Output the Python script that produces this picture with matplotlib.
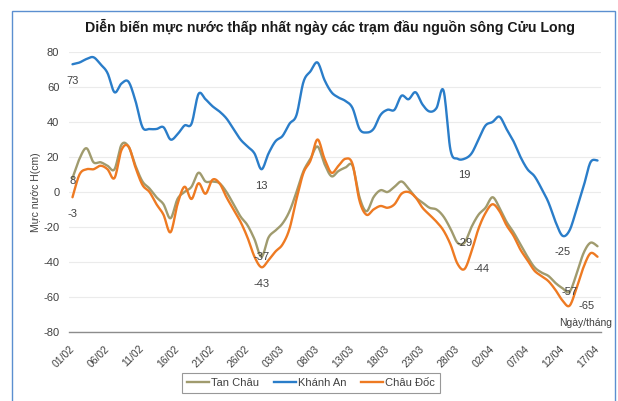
import numpy as np
import pandas as pd
import matplotlib
matplotlib.use("Agg")
import matplotlib.pyplot as plt
from matplotlib.patches import Rectangle
from matplotlib.lines import Line2D

plt.rcParams['font.family'] = ['Liberation Sans', 'DejaVu Sans']
plt.rcParams['axes.unicode_minus'] = False

# ---------------- data ----------------
dates = list(pd.date_range('2023-02-01', periods=76).strftime('%d/%m'))
tick_every = 5

tan_chau = [8, 19, 25, 17, 17, 15, 13, 27, 26, 15, 6, 2, -3, -7, -15, -4, 0, 3, 11, 6,
            6, 5, 0, -7, -14, -19, -27, -37, -26, -22, -18, -11, 0, 12, 19, 26, 16, 9, 12, 14,
            15, -3, -11, -3, 1, 0, 3, 6, 2, -3, -6, -9, -10, -14, -21, -29, -29, -20, -13, -9,
            -3, -9, -17, -23, -30, -37, -43, -46, -48, -52, -55, -57, -47, -35, -29, -31]

khanh_an = [73, 74, 76, 77, 73, 68, 57, 62, 63, 52, 37, 36, 36, 37, 30, 33, 38, 39, 56, 53,
            49, 46, 42, 36, 30, 26, 22, 13, 22, 29, 32, 39, 44, 63, 69, 74, 64, 57, 54, 52,
            48, 36, 34, 36, 44, 47, 47, 55, 53, 57, 50, 46, 48, 58, 24, 19, 19, 22, 30, 38,
            40, 43, 36, 29, 20, 13, 9, 2, -6, -17, -25, -22, -10, 3, 17, 18]

chau_doc = [-3, 10, 13, 13, 15, 13, 8, 24, 26, 14, 4, 0, -7, -13, -23, -7, 3, -4, 5, -1,
            7, 5, -3, -10, -17, -26, -37, -43, -39, -34, -30, -21, -4, 11, 18, 30, 19, 11, 15, 19,
            16, -5, -13, -10, -8, -9, -7, -1, 0, -3, -9, -13, -17, -22, -30, -41, -44, -34, -21, -12,
            -7, -11, -19, -25, -33, -39, -45, -48, -51, -56, -62, -65, -55, -43, -35, -37]

series_names = ['Tan Châu', 'Khánh An', 'Châu Đốc']
colors = ['#A09B6E', '#2A7DC9', '#EE7A22']

# annotated points: (series index, day index, position)
labels = [(1, 0, 'below'), (0, 0, 'center_low'), (2, 0, 'below'),
          (1, 27, 'below'), (0, 27, 'center'), (2, 27, 'below'),
          (1, 56, 'below'), (0, 56, 'center'), (2, 56, 'right'),
          (1, 70, 'below'), (0, 71, 'center'), (2, 71, 'right')]

title = 'Diễn biến mực nước thấp nhất ngày các trạm đầu nguồn sông Cửu Long'
ylabel = 'Mực nước H(cm)'
xlabel = 'Ngày/tháng'


def smooth(y, n=12):
    """Excel-like smoothed line (Catmull-Rom as cubic Bezier)."""
    y = np.asarray(y, float)
    x = np.arange(len(y), dtype=float)
    P = np.column_stack([x, y])
    out = []
    t = np.linspace(0, 1, n, endpoint=False)
    for i in range(len(P) - 1):
        p0 = P[i - 1] if i > 0 else P[i]
        p1 = P[i]
        p2 = P[i + 1]
        p3 = P[i + 2] if i + 2 < len(P) else P[i + 1]
        c1 = p1 + (p2 - p0) / 6.0
        c2 = p2 - (p3 - p1) / 6.0
        tt = t[:, None]
        seg = ((1 - tt) ** 3) * p1 + 3 * ((1 - tt) ** 2) * tt * c1 + 3 * (1 - tt) * tt ** 2 * c2 + tt ** 3 * p2
        out.append(seg)
    out.append(P[-1:])
    pts = np.vstack(out)
    return pts[:, 0], pts[:, 1]


W, H = 618, 401
fig = plt.figure(figsize=(W / 100, H / 100), dpi=100)

# chart border
fig.add_artist(Rectangle((12 / W, -0.01), (615 - 12) / W, 1 - 11 / H + 0.01,
                         transform=fig.transFigure, fill=False, edgecolor='#5B8FD0',
                         linewidth=1.0))

ax = fig.add_axes([69 / W, 1 - 332 / H, (601 - 69) / W, (332 - 52) / H])

data = [tan_chau, khanh_an, chau_doc]
for vals, name, col in zip(data, series_names, colors):
    xs, ys = smooth(vals)
    ax.plot(xs, ys, color=col, lw=1.7, label=name, solid_capstyle='round', zorder=3)

ax.set_xlim(-0.5, len(dates) - 0.5)
ax.set_ylim(-80, 80)
ax.set_yticks(np.arange(-80, 81, 20))
ax.grid(axis='y', color='#EBEBEB', lw=0.8, zorder=0)
ax.set_axisbelow(True)
for s in ['top', 'right', 'left']:
    ax.spines[s].set_visible(False)
ax.spines['bottom'].set_color('#8C8C8C')
ax.spines['bottom'].set_linewidth(1.0)

tick_pos = list(range(0, len(dates), tick_every))
ax.set_xticks(tick_pos)
ax.set_xticklabels([dates[i] for i in tick_pos], rotation=45, ha='right', va='center',
                   rotation_mode='anchor', fontsize=7.5, color='#404040')
ax.tick_params(axis='x', length=0, pad=11)
ax.tick_params(axis='y', length=0, pad=7, labelsize=8, labelcolor='#404040')

# data labels
for si, di, pos in labels:
    v = data[si][di]
    if pos == 'below':
        off = (0, -12)
    elif pos == 'center':
        off = (0, 0)
    elif pos == 'center_low':
        off = (0, -2)
    else:
        off = (12, 0)
    ax.annotate(str(v), (di, v), xytext=off, textcoords='offset points',
                ha='center', va='center', fontsize=8, color='#404040', zorder=5)

fig.text(330 / W, 1 - 27 / H, title, ha='center', va='center', fontsize=10.2,
         fontweight='bold', color='#1a1a1a')
fig.text(36 / W, 1 - 192 / H, ylabel, rotation=90, ha='center', va='center',
         fontsize=7.5, color='#404040')
fig.text(612 / W, 1 - 323 / H, xlabel, ha='right', va='center', fontsize=7.5,
         color='#404040')

handles = [Line2D([], [], color=c, lw=1.7) for c in colors]
leg = fig.legend(handles, series_names, loc='center', ncol=3,
                 bbox_to_anchor=(311 / W, 1 - 383 / H), fontsize=8,
                 frameon=True, fancybox=False, edgecolor='#7F7F7F',
                 handlelength=2.0, handletextpad=0.2, columnspacing=1.3,
                 borderpad=0.45)
leg.get_frame().set_linewidth(0.8)
for t in leg.get_texts():
    t.set_color('#404040')

fig.savefig('out.png', dpi=100)
